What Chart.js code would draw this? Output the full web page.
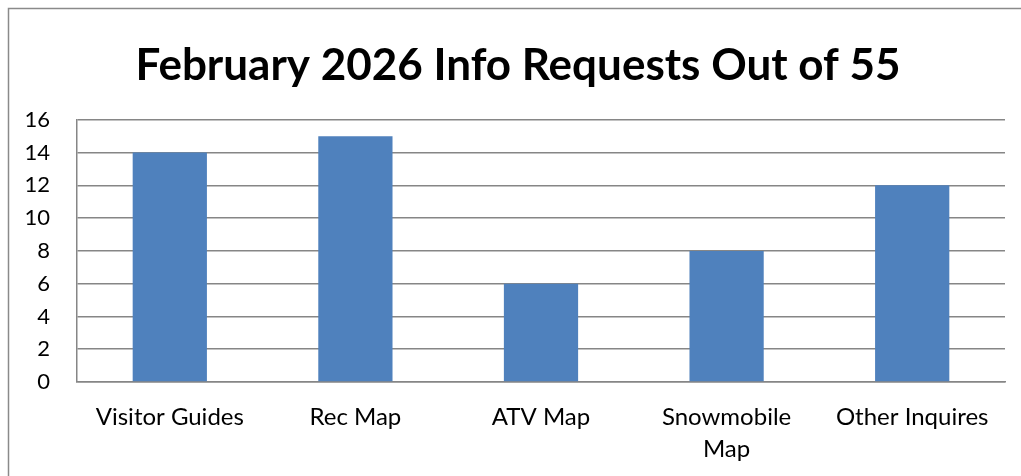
<!DOCTYPE html>
<html>
<head>
<meta charset="utf-8">
<script src="https://cdn.jsdelivr.net/npm/chart.js@4"></script>
<style>
  body { margin: 0; background: #fff; }
</style>
</head>
<body>
<canvas id="requestsChart" width="1021" height="476"></canvas>
<script>
var categories = ['Visitor Guides', 'Rec Map', 'ATV Map', ['Snowmobile', 'Map'], 'Other Inquires'];
var requests = [14, 15, 6, 8, 12];
var chartTitle = 'February 2026 Info Requests Out of 55';

var lineGray = '#868686';

// Outer frame of the chart box (only the left and top edges are visible)
var framePlugin = {
    id: 'frame',
    afterLayout: function (chart) {
        // centre the title over the whole box, not only the part left of the right padding
        chart.titleBlock.left = 31;
        chart.titleBlock.right = 1005;
    },
    beforeDraw: function (chart) {
        var ctx = chart.ctx;
        ctx.save();
        ctx.strokeStyle = '#8a8a8a';
        ctx.lineWidth = 1.5;
        ctx.beginPath();
        ctx.moveTo(8.5, 476);
        ctx.lineTo(8.5, 8.5);
        ctx.lineTo(1021, 8.5);
        ctx.stroke();
        ctx.restore();
    }
};

const ctx = document.getElementById('requestsChart').getContext('2d');
const mainChart = new Chart(ctx, {
    type: 'bar',
    data: {
        labels: categories,
        datasets: [{
            label: 'Requests',
            data: requests,
            backgroundColor: '#4f81bd',
            borderWidth: 0,
            barPercentage: 0.4,
            categoryPercentage: 1.0
        }]
    },
    options: {
        responsive: false,
        animation: false,
        layout: {
            padding: { left: 0, right: 16, top: 0, bottom: 0 }
        },
        plugins: {
            legend: { display: false },
            tooltip: { enabled: false },
            title: {
                display: true,
                text: chartTitle,
                color: '#000',
                font: { family: 'Lato', size: 44, weight: 'bold' },
                padding: { top: 39, bottom: 28 }
            }
        },
        scales: {
            x: {
                afterFit: function (scale) { scale.height = 94; },
                grid: { display: false, drawTicks: false },
                border: { display: true, color: lineGray, width: 1.5 },
                ticks: {
                    color: '#000',
                    font: { family: 'Lato', size: 24, lineHeight: 1.3 },
                    padding: 20,
                    maxRotation: 0,
                    autoSkip: false
                }
            },
            y: {
                min: 0,
                max: 16,
                afterFit: function (scale) { scale.width = 77; },
                grid: { color: lineGray, lineWidth: 1.5, drawTicks: false },
                border: { display: true, color: lineGray, width: 1.5 },
                ticks: {
                    stepSize: 2,
                    color: '#000',
                    font: { family: 'Lato', size: 22 },
                    padding: 27
                }
            }
        }
    },
    plugins: [framePlugin]
});
</script>
</body>
</html>
